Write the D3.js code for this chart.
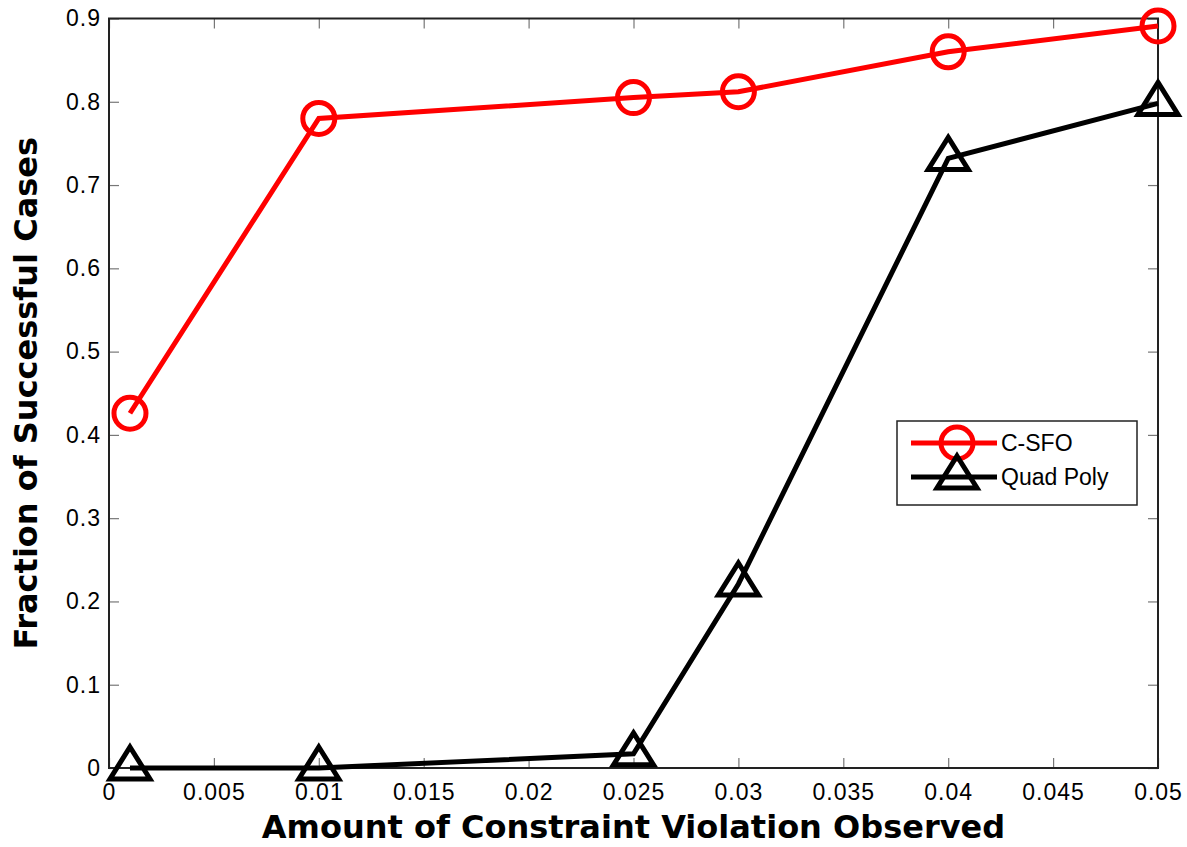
<!DOCTYPE html>
<meta charset="utf-8">
<style>
body { margin: 0; background: #fff; }
.tick text { font-family: "Liberation Sans", Arial, sans-serif; font-size: 23px; letter-spacing: 1px; fill: #000; }
.axis-title { font-family: "DejaVu Sans", sans-serif; font-weight: bold; font-size: 32px; fill: #000; }
.legend text { font-family: "Liberation Sans", Arial, sans-serif; font-size: 23px; fill: #000; }
</style>
<body>
<div id="chart"></div>
<script src="https://d3js.org/d3.v7.min.js"></script>
<script>

// data
var xValues = [0.001, 0.01, 0.025, 0.03, 0.04, 0.05];
var csfo = [0.426, 0.780, 0.805, 0.812, 0.860, 0.891];
var quadPoly = [0.0, 0.0, 0.017, 0.221, 0.732, 0.798];
var xTicks = [0, 0.005, 0.01, 0.015, 0.02, 0.025, 0.03, 0.035, 0.04, 0.045, 0.05];
var yTicks = [0, 0.1, 0.2, 0.3, 0.4, 0.5, 0.6, 0.7, 0.8, 0.9];
var seriesNames = ["C-SFO", "Quad Poly"];

var W = 1187, H = 847;
var margin = {top: 18.5, right: 29, bottom: 79, left: 109};
var width = W - margin.left - margin.right,
    height = H - margin.top - margin.bottom;

var xScale = d3.scaleLinear().domain([0, 0.05]).range([0, width]);
var yScale = d3.scaleLinear().domain([0, 0.9]).range([height, 0]);

var svg = d3.select("#chart").append("svg")
    .attr("width", W)
    .attr("height", H)
  .append("g")
    .attr("transform", "translate(" + margin.left + "," + margin.top + ")");

var fmt = function(d) { return d === 0 ? "0" : String(+d.toFixed(3)); };

// axes, ticks pointing inward, mirrored on top and right
function styleAxis(g) {
    g.select(".domain").remove();
    g.selectAll(".tick line").attr("stroke", "#777").attr("stroke-width", 1.2);
}

svg.append("g")
    .attr("transform", "translate(0," + height + ")")
    .call(d3.axisBottom(xScale).tickValues(xTicks).tickSize(-10).tickPadding(16).tickFormat(fmt))
    .call(styleAxis);

svg.append("g")
    .call(d3.axisTop(xScale).tickValues(xTicks).tickSize(-10).tickFormat(""))
    .call(styleAxis);

svg.append("g")
    .call(d3.axisLeft(yScale).tickValues(yTicks).tickSize(-10).tickPadding(8).tickFormat(fmt))
    .call(styleAxis);

svg.append("g")
    .attr("transform", "translate(" + width + ",0)")
    .call(d3.axisRight(yScale).tickValues(yTicks).tickSize(-10).tickFormat(""))
    .call(styleAxis);

svg.selectAll(".tick text").attr("fill", "#000");

svg.append("rect")
    .attr("width", width)
    .attr("height", height)
    .attr("fill", "none")
    .attr("stroke", "#222")
    .attr("stroke-width", 2);

var line = d3.line()
    .x(function(d) { return xScale(d[0]); })
    .y(function(d) { return yScale(d[1]); });

// MATLAB-style '^' marker
var triPath = "M0,-19L20,13L-20,13Z";

// Quad Poly
var qData = xValues.map(function(x, i) { return [x, quadPoly[i]]; });
svg.append("path")
    .datum(qData)
    .attr("fill", "none")
    .attr("stroke", "#000")
    .attr("stroke-width", 5)
    .attr("d", line);

svg.selectAll(".tri")
    .data(qData)
  .enter().append("path")
    .attr("class", "tri")
    .attr("transform", function(d) { return "translate(" + xScale(d[0]) + "," + (yScale(d[1]) - 2) + ")"; })
    .attr("d", triPath)
    .attr("fill", "none")
    .attr("stroke", "#000")
    .attr("stroke-width", 5);

// C-SFO
var cData = xValues.map(function(x, i) { return [x, csfo[i]]; });
svg.append("path")
    .datum(cData)
    .attr("fill", "none")
    .attr("stroke", "#ff0000")
    .attr("stroke-width", 5)
    .attr("d", line);

svg.selectAll(".dot")
    .data(cData)
  .enter().append("circle")
    .attr("class", "dot")
    .attr("cx", function(d) { return xScale(d[0]); })
    .attr("cy", function(d) { return yScale(d[1]); })
    .attr("r", 16)
    .attr("fill", "none")
    .attr("stroke", "#ff0000")
    .attr("stroke-width", 5);

// legend
var legend = svg.append("g")
    .attr("class", "legend")
    .attr("transform", "translate(" + (897 - margin.left) + "," + (421 - margin.top) + ")");

legend.append("rect")
    .attr("width", 240)
    .attr("height", 84)
    .attr("fill", "#fff")
    .attr("stroke", "#222")
    .attr("stroke-width", 1.5);

var colors = ["#ff0000", "#000"];
seriesNames.forEach(function(name, i) {
    var y = 22 + i * 34;
    legend.append("line")
        .attr("x1", 14).attr("x2", 100)
        .attr("y1", y).attr("y2", y)
        .attr("stroke", colors[i])
        .attr("stroke-width", 5);
    if (i === 0) {
        legend.append("circle")
            .attr("cx", 60).attr("cy", y).attr("r", 16)
            .attr("fill", "none").attr("stroke", colors[i]).attr("stroke-width", 5);
    } else {
        legend.append("path")
            .attr("transform", "translate(60," + (y - 2) + ")")
            .attr("d", triPath)
            .attr("fill", "none").attr("stroke", colors[i]).attr("stroke-width", 5);
    }
    legend.append("text")
        .attr("x", 104)
        .attr("y", y + 8)
        .text(name);
});

// axis titles
svg.append("text")
    .attr("class", "axis-title")
    .attr("x", width / 2)
    .attr("y", height + 70)
    .attr("text-anchor", "middle")
    .text("Amount of Constraint Violation Observed");

svg.append("text")
    .attr("class", "axis-title")
    .attr("transform", "translate(" + (-72) + "," + (height / 2) + ") rotate(-90)")
    .attr("text-anchor", "middle")
    .text("Fraction of Successful Cases");

</script>
</body>
